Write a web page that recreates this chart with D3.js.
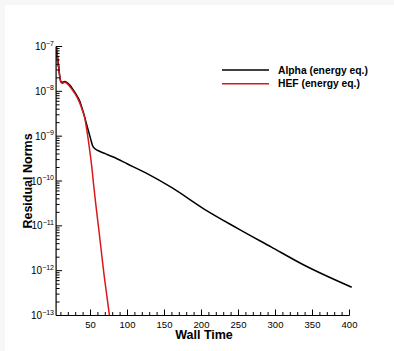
<!DOCTYPE html>
<html>
<head>
<meta charset="utf-8">
<script src="https://cdn.jsdelivr.net/npm/d3@7"></script>
<style>
  html, body { margin: 0; padding: 0; background: #f7f7f7; }
  svg { display: block; }
  text { font-family: "Liberation Sans", Arial, Helvetica, sans-serif; fill: #000; }
</style>
</head>
<body>
<svg id="chart" width="394" height="351"></svg>
<script>
// Wall time samples and log10 of the residual norm for each solver run
const alphaTime = [4, 4.5, 5, 5.5, 6, 6.5, 7, 7.5, 8, 9, 10, 12, 15, 18, 22, 26, 30, 35, 40, 45, 50, 53, 56, 60, 70, 80, 100, 126, 160, 203, 248, 294, 339, 403];
const alphaLog  = [-7.0, -7.25, -7.1, -7.35, -7.25, -7.45, -7.4, -7.55, -7.6, -7.72, -7.78, -7.8, -7.78, -7.8, -7.86, -7.95, -8.05, -8.2, -8.45, -8.75, -9.05, -9.22, -9.28, -9.32, -9.39, -9.46, -9.62, -9.83, -10.15, -10.62, -11.05, -11.47, -11.88, -12.37];

const hefTime = [4, 4.5, 5, 5.5, 6, 6.5, 7, 7.5, 8, 9, 10, 12, 15, 18, 22, 26, 30, 35, 40, 42, 45, 48, 50, 52, 54, 57, 61, 64.5, 68, 72, 76];
const hefLog  = [-7.0, -7.26, -7.12, -7.37, -7.27, -7.47, -7.42, -7.57, -7.62, -7.74, -7.8, -7.82, -7.8, -7.82, -7.89, -7.98, -8.08, -8.24, -8.47, -8.58, -8.86, -9.2, -9.45, -9.72, -10.05, -10.5, -11.05, -11.55, -12.05, -12.55, -13.05];

const seriesNames = ["Alpha (energy eq.)", "HEF (energy eq.)"];
const seriesColors = ["#000000", "#d7191c"];

const xMajorTicks = [50, 100, 150, 200, 250, 300, 350, 400];
const yExponents = [-7, -8, -9, -10, -11, -12, -13];

const svg = d3.select("#chart");

// white page area
svg.append("rect").attr("x", 5).attr("y", 5).attr("width", 389).attr("height", 346).attr("fill", "#fff");

const x = d3.scaleLinear().domain([0, 400]).range([53.5, 349.5]);
const y = d3.scaleLog().domain([1e-13, 1e-7]).range([315.5, 46.5]);
const xStart = 3.5;

// clip for the data lines
svg.append("clipPath").attr("id", "plotClip")
  .append("rect").attr("x", x(xStart)).attr("y", 0).attr("width", 394 - x(xStart)).attr("height", y(1e-13));

const line = d3.line().curve(d3.curveMonotoneX).x(d => x(d[0])).y(d => y(d[1]));
const alphaPts = alphaTime.map((t, i) => [t, Math.pow(10, alphaLog[i])]);
const hefPts = hefTime.map((t, i) => [t, Math.pow(10, hefLog[i])]);

const lines = svg.append("g").attr("clip-path", "url(#plotClip)");
lines.append("path").datum(alphaPts).attr("d", line)
  .attr("fill", "none").attr("stroke", seriesColors[0]).attr("stroke-width", 1.5).attr("stroke-linejoin", "round");
lines.append("path").datum(hefPts).attr("d", line)
  .attr("fill", "none").attr("stroke", seriesColors[1]).attr("stroke-width", 1.5).attr("stroke-linejoin", "round");

// axes
const axisG = svg.append("g").attr("stroke", "#000").attr("stroke-width", 1.2);
const x0 = x(xStart), yBottom = y(1e-13), yTop = y(1e-7);
axisG.append("line").attr("x1", x0).attr("x2", x0).attr("y1", yTop).attr("y2", yBottom);
axisG.append("line").attr("x1", x0).attr("x2", x(400)).attr("y1", yBottom).attr("y2", yBottom);

// x ticks (inward)
const xMinor = d3.range(10, 401, 10).filter(v => !xMajorTicks.includes(v));
axisG.selectAll(".xminor").data(xMinor).join("line")
  .attr("x1", d => x(d)).attr("x2", d => x(d)).attr("y1", yBottom).attr("y2", yBottom - 3.5).attr("stroke-width", 1);
axisG.selectAll(".xmajor").data(xMajorTicks).join("line")
  .attr("x1", d => x(d)).attr("x2", d => x(d)).attr("y1", yBottom).attr("y2", yBottom - 6).attr("stroke-width", 1);

// y ticks (inward)
const yMinor = [];
yExponents.slice(1).forEach(e => { for (let k = 2; k <= 9; k++) yMinor.push(k * Math.pow(10, e)); });
axisG.selectAll(".yminor").data(yMinor).join("line")
  .attr("x1", x0).attr("x2", x0 + 3.5).attr("y1", d => y(d)).attr("y2", d => y(d)).attr("stroke-width", 1);
axisG.selectAll(".ymajor").data(yExponents).join("line")
  .attr("x1", x0).attr("x2", x0 + 6).attr("y1", d => y(Math.pow(10, d))).attr("y2", d => y(Math.pow(10, d))).attr("stroke-width", 1);

// x tick labels
svg.append("g").selectAll("text").data(xMajorTicks).join("text")
  .attr("x", d => x(d)).attr("y", 327.5).attr("text-anchor", "middle")
  .attr("font-size", 9.5).text(d => d);

// y tick labels: 10 with superscript exponent
const yl = svg.append("g").selectAll("text").data(yExponents).join("text")
  .attr("x", 54).attr("y", d => y(Math.pow(10, d)) + 3.5).attr("text-anchor", "end")
  .attr("font-size", 10);
yl.append("tspan").text("10");
yl.append("tspan").attr("dy", -4.5).attr("font-size", 7).text(d => "\u2212" + Math.abs(d));

// axis titles
svg.append("text").attr("x", 204).attr("y", 339).attr("text-anchor", "middle")
  .attr("font-size", 12.5).attr("font-weight", "bold").text("Wall Time");
svg.append("text").attr("transform", "translate(32,181) rotate(-90)").attr("text-anchor", "middle")
  .attr("font-size", 12.5).attr("font-weight", "bold").text("Residual Norms");

// legend
const legend = svg.append("g");
seriesNames.forEach((name, i) => {
  const ly = 70 + i * 13.7;
  legend.append("line").attr("x1", 222).attr("x2", 269).attr("y1", ly).attr("y2", ly)
    .attr("stroke", seriesColors[i]).attr("stroke-width", 1.5);
  legend.append("text").attr("x", 278).attr("y", ly + 3.7)
    .attr("font-size", 10.3).attr("font-weight", "bold").text(name);
});
</script>
</body>
</html>
